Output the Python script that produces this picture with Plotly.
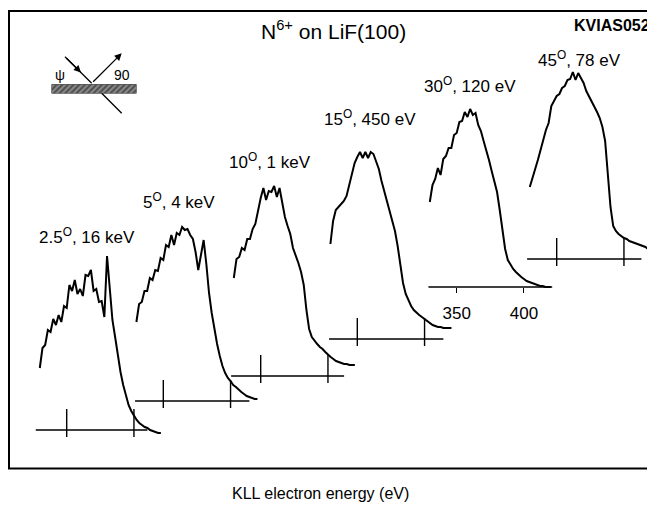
import plotly.graph_objects as go

# ---------------- data ----------------
ENERGY = [330, 332, 334, 336, 338, 340, 342, 344, 346, 348,
          350, 352, 354, 356, 358, 360, 362, 364, 366, 368,
          370, 372, 374, 376, 378, 380, 382, 384, 386, 388,
          390, 392, 394, 396, 398, 400, 402, 404, 406, 408,
          410, 412, 414, 416, 418, 420]

I_2p5 = [62, 82, 85, 100, 98, 111, 105, 115, 108, 124,
         122, 145, 139, 150, 136, 141, 134, 155, 154, 160,
         139, 141, 128, 129, 113, 174, 142, 110, 93, 74,
         58, 45, 34, 25, 19, 14, 10, 7, 5, 3,
         2, 0, -1, -2, -3, -3]
I_5 = [79, 97, 99, 110, 110, 123, 121, 131, 130, 143,
       141, 156, 154, 166, 156, 168, 166, 174, 171, 172,
       166, 162, 149, 131, 146, 161, 137, 108, 88, 72,
       57, 45, 35, 28, 23, 20, 16, 14, 11, 9,
       7, 5, 4, 3, 2, 2]
I_10 = [98, 117, 119, 128, 126, 137, 137, 147, 152, 167,
        178, 188, 176, 185, 184, 190, 179, 188, 172, 159,
        150, 142, 128, 121, 113, 104, 91, 66, 47, 39,
        35, 32, 29, 27, 24, 21, 19, 17, 15, 14,
        13, 12, 12, 11, 11, 11]
I_15 = [95, 118, 129, 132, 135, 138, 143, 155, 166, 176,
        182, 187, 181, 187, 181, 187, 185, 178, 170, 158,
        148, 137, 127, 117, 108, 93, 74, 56, 45, 38,
        33, 29, 26, 24, 22, 20, 18, 16, 14, 13,
        12, 12, 11, 11, 11, 11]
I_30 = [85, 102, 108, 119, 112, 128, 131, 139, 139, 152,
        154, 165, 166, 175, 170, 178, 172, 174, 162, 156,
        146, 137, 127, 116, 106, 95, 77, 57, 38, 27,
        22, 18, 15, 12, 10, 8, 6, 5, 4, 3,
        2, 1, 1, 0, 0, 0]
I_45 = [72, 80, 90, 99, 110, 120, 129, 136, 153, 158,
        163, 165, 171, 173, 179, 180, 187, 179, 186, 181,
        176, 168, 163, 158, 152, 147, 141, 132, 118, 85,
        52, 33, 28, 25, 23, 21, 20, 18, 17, 16,
        15, 14, 13, 12, 10, 9]

SERIES = [I_2p5, I_5, I_10, I_15, I_30, I_45]
LABELS = ["2.5<sup>O</sup>, 16 keV", "5<sup>O</sup>, 4 keV", "10<sup>O</sup>, 1 keV",
          "15<sup>O</sup>, 450 eV", "30<sup>O</sup>, 120 eV", "45<sup>O</sup>, 78 eV"]
TICK_VALS = [350, 400]
TICK_TEXT = ["350", "400"]
BASE_START = [327, 329, 328, 329, 329, 328]
BASE_END = [410, 414, 412, 414, 421, 413]

TITLE = "N<sup>6+</sup> on LiF(100)"
TAG = "<b>KVIAS052</b>"
XLABEL = "KLL electron energy (eV)"

# ---------------- layout geometry (screen pixels) ----------------
W, H = 655, 506
OFF = 8                     # page body margin offset of the figure
PX_PER_EV = 1.345
X350 = [66.7, 163.3, 260.7, 357.3, 456.7, 556.7]   # screen x of 350 eV per panel
AXIS_Y = [430, 401, 376, 339, 287, 259]            # screen y of each baseline
LABEL_POS = [(87, 236), (179, 201), (270, 161), (370, 118), (470, 85), (579, 59)]
E_MIN, E_MAX = 325, 425
LABELED_PANEL = 4


def px(x):
    return (x - OFF) / W


def py(y):
    return 1 - (y - OFF) / H


FONT = "Liberation Sans, Arial, Helvetica, sans-serif"
fig = go.Figure()
shapes = []
annotations = []
layout_axes = {}


def text_ann(text, x, y, size, **kw):
    d = dict(text=text, x=px(x), y=py(y), xref="paper", yref="paper", showarrow=False,
             xanchor="center", yanchor="middle",
             font=dict(family=FONT, size=size, color="black"))
    d.update(kw)
    return d


for i, (vals, label) in enumerate(zip(SERIES, LABELS)):
    n = i + 1
    xa = "x" if n == 1 else f"x{n}"
    ya = "y" if n == 1 else f"y{n}"
    fig.add_trace(go.Scatter(x=ENERGY, y=vals, mode="lines", xaxis=xa, yaxis=ya,
                             line=dict(color="black", width=2.0), showlegend=False,
                             hoverinfo="skip"))
    left = X350[i] - (350 - E_MIN) * PX_PER_EV
    right = X350[i] + (E_MAX - 350) * PX_PER_EV
    xkey = "xaxis" if n == 1 else f"xaxis{n}"
    ykey = "yaxis" if n == 1 else f"yaxis{n}"
    labeled = (i == LABELED_PANEL)
    xa_cfg = dict(domain=[px(left), min(px(right), 1.0)], range=[E_MIN, E_MAX],
                  showgrid=False, zeroline=False, showline=False,
                  tickvals=TICK_VALS, ticktext=TICK_TEXT,
                  showticklabels=labeled, ticks="outside" if labeled else "",
                  ticklen=5, tickwidth=1.3, tickcolor="black",
                  tickfont=dict(family=FONT, size=17, color="black"),
                  anchor="free", position=py(AXIS_Y[i]))
    if labeled:
        xa_cfg["ticklabelstandoff"] = 6
    layout_axes[xkey] = xa_cfg
    layout_axes[ykey] = dict(domain=[0, 1],
                             range=[AXIS_Y[i] - OFF - H, AXIS_Y[i] - OFF],
                             visible=False, anchor=xa)
    # baseline
    shapes.append(dict(type="line", xref=xa, yref=ya, x0=BASE_START[i], x1=BASE_END[i],
                       y0=0, y1=0, line=dict(color="black", width=1.6)))
    if not labeled:
        for tv in TICK_VALS:
            shapes.append(dict(type="line", xref=xa, yref=ya, x0=tv, x1=tv, y0=-7, y1=21,
                               line=dict(color="black", width=1.4)))
    lx, ly = LABEL_POS[i]
    annotations.append(text_ann(label, lx, ly, 17))

# frame
shapes += [
    dict(type="line", xref="paper", yref="paper", x0=px(9), x1=px(9), y0=py(11), y1=py(469),
         line=dict(color="black", width=2)),
    dict(type="line", xref="paper", yref="paper", x0=px(8), x1=1, y0=py(11), y1=py(11),
         line=dict(color="black", width=2)),
    dict(type="line", xref="paper", yref="paper", x0=px(8), x1=1, y0=py(468.5), y1=py(468.5),
         line=dict(color="black", width=2)),
]

# inset schematic: hatched surface
fig.add_trace(go.Scatter(x=[0, 1, 1, 0, 0], y=[0, 0, 1, 1, 0], mode="lines", fill="toself",
                         xaxis="x7", yaxis="y7", line=dict(color="#222", width=1),
                         fillcolor="#808080",
                         fillpattern=dict(shape="/", fgcolor="#111", bgcolor="#8a8a8a",
                                          size=4, solidity=0.5),
                         showlegend=False, hoverinfo="skip"))
layout_axes["xaxis7"] = dict(domain=[px(51.5), px(136.5)], range=[0, 1], visible=False, anchor="y7")
layout_axes["yaxis7"] = dict(domain=[py(93.5), py(84.3)], range=[0, 1], visible=False, anchor="x7")

# beams
shapes += [
    dict(type="line", xref="paper", yref="paper", x0=px(65), y0=py(56.7), x1=px(91.7), y1=py(83.3),
         line=dict(color="black", width=1.3)),
    dict(type="line", xref="paper", yref="paper", x0=px(101.7), y0=py(93.3), x1=px(121.7), y1=py(113.3),
         line=dict(color="black", width=1.3)),
]
annotations += [
    dict(x=px(81), y=py(72.5), xref="paper", yref="paper", ax=-16, ay=-15.8, text="",
         showarrow=True, arrowhead=2, arrowsize=1.1, arrowwidth=1.3, arrowcolor="black"),
    dict(x=px(121.7), y=py(53.3), xref="paper", yref="paper", ax=-30, ay=30, text="",
         showarrow=True, arrowhead=2, arrowsize=1.1, arrowwidth=1.3, arrowcolor="black"),
    text_ann("ψ", 60, 75, 14),
    text_ann("90", 122, 75, 14),
    text_ann(TITLE, 333, 30, 21),
    text_ann(TAG, 612, 25, 16),
    text_ann(XLABEL, 320, 493, 16),
]

fig.update_layout(width=W, height=H, margin=dict(l=0, r=0, t=0, b=0),
                  paper_bgcolor="white", plot_bgcolor="rgba(0,0,0,0)",
                  shapes=shapes, annotations=annotations, showlegend=False,
                  **layout_axes)

fig.write_html("out.html")
